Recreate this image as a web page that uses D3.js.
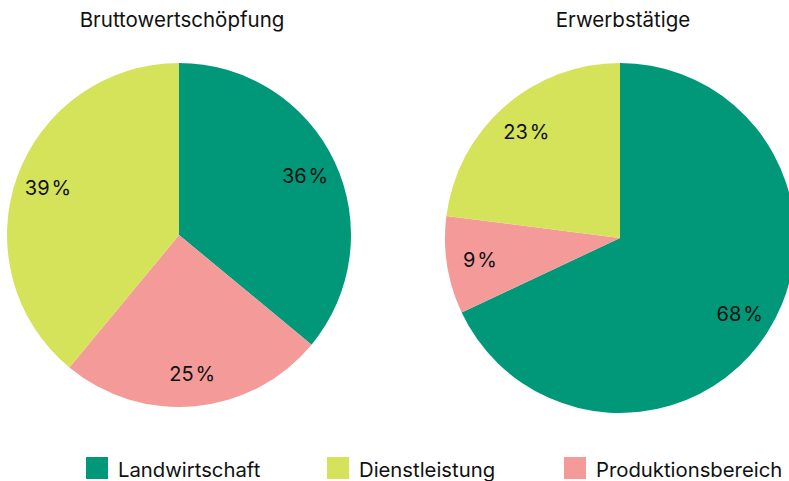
<!DOCTYPE html>
<html><head><meta charset="utf-8">
<script src="https://cdn.jsdelivr.net/npm/d3@7"></script>
<style>
html,body{margin:0;padding:0;background:#fff;}
text{font-family:Inter,"Liberation Sans",Arial,sans-serif;fill:#111;}
</style></head>
<body>
<svg id="chart" width="789" height="481"></svg>
<script>
const categories = ["Landwirtschaft", "Produktionsbereich", "Dienstleistung"];
const legendOrder = ["Landwirtschaft", "Dienstleistung", "Produktionsbereich"];
const titles = ["Bruttowertschöpfung", "Erwerbstätige"];
const bruttowertschoepfung = [36, 25, 39];
const erwerbstaetige = [68, 9, 23];
const colors = ["#009879", "#f49b9a", "#d5e35a"];

const svg = d3.select("#chart");
const color = d3.scaleOrdinal().domain(categories).range(colors);

const panels = [
  {title: titles[0], values: bruttowertschoepfung, cx: 179, cy: 235, r: 172},
  {title: titles[1], values: erwerbstaetige, cx: 620, cy: 238, r: 175}
];

const pie = d3.pie().sort(null).value(d => d.value);

panels.forEach(p => {
  const data = categories.map((c, i) => ({cat: c, value: p.values[i]}));
  const arcs = pie(data);
  const g = svg.append("g").attr("transform", `translate(${p.cx},${p.cy})`);
  const arc = d3.arc().innerRadius(0).outerRadius(p.r);
  g.selectAll("path").data(arcs).join("path")
    .attr("d", arc)
    .attr("fill", d => color(d.data.cat));
  const labelArc = d3.arc().innerRadius(p.r * 0.81).outerRadius(p.r * 0.81);
  g.selectAll("text.lbl").data(arcs).join("text")
    .attr("class", "lbl")
    .attr("transform", d => `translate(${labelArc.centroid(d)})`)
    .attr("text-anchor", "middle")
    .attr("dy", "0.36em")
    .style("font-size", "20px")
    .text(d => d.data.value + "\u200A%");
  svg.append("text")
    .attr("x", p.cx + 3)
    .attr("y", 27)
    .attr("text-anchor", "middle")
    .style("font-size", "20.5px")
    .text(p.title);
});

const legendX = d3.scalePoint().domain(legendOrder).range([86, 564]);
const lg = svg.append("g").selectAll("g").data(legendOrder).join("g")
  .attr("transform", d => `translate(${legendX(d) + (d === "Dienstleistung" ? 2 : 0)},457)`);
lg.append("rect").attr("width", 22).attr("height", 22).attr("fill", d => color(d));
lg.append("text").attr("x", 32).attr("y", 20).style("font-size", "20.3px").text(d => d);
</script>
</body></html>
